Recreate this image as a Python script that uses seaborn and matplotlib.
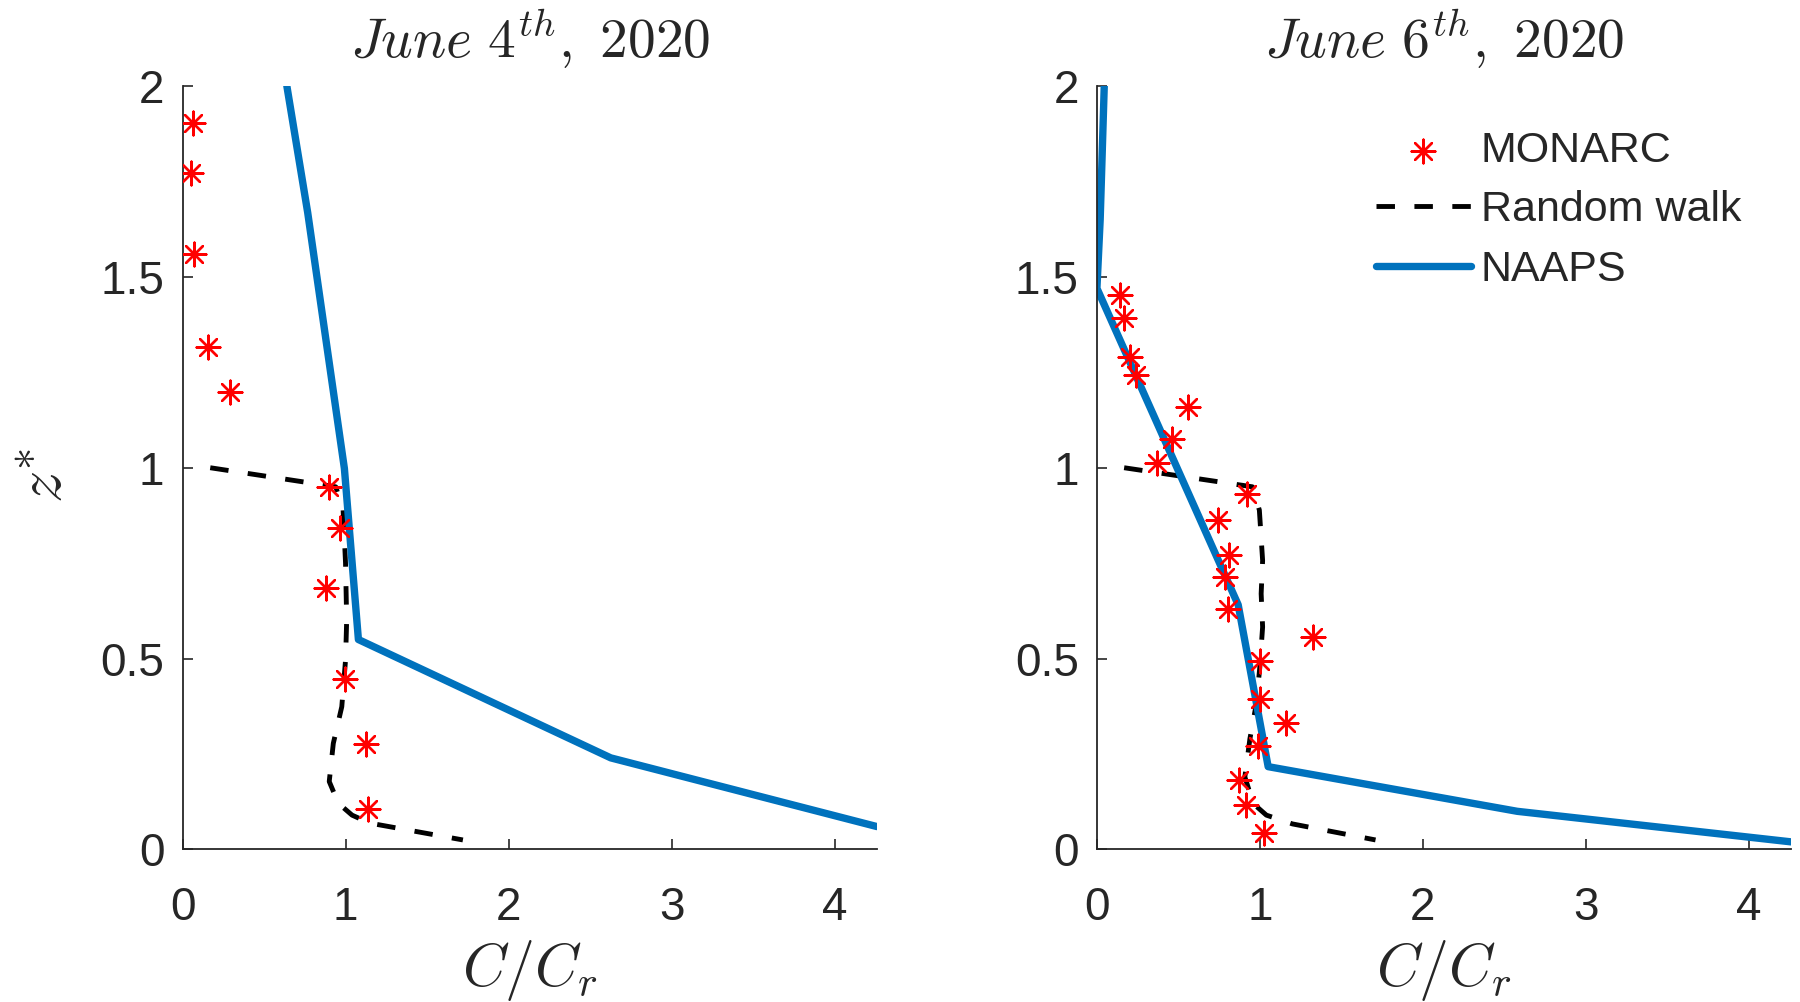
import pandas as pd
import seaborn as sns
import matplotlib.pyplot as plt

# June 4th profiles
monarc_x_jun4 = [0.064, 0.05, 0.071, 0.155, 0.289, 0.90, 0.966, 0.88, 0.997, 1.124, 1.14]
monarc_z_jun4 = [1.902, 1.773, 1.56, 1.316, 1.199, 0.95, 0.843, 0.684, 0.446, 0.276, 0.106]
walk_x_jun4 = [0.17, 0.94, 0.985, 1.0, 1.007, 1.0, 0.977, 0.925, 0.90, 0.956, 1.04, 1.15, 1.72]
walk_z_jun4 = [1.0, 0.95, 0.89, 0.75, 0.60, 0.496, 0.374, 0.278, 0.178, 0.121, 0.09, 0.069, 0.025]
naaps_x_jun4 = [0.64, 0.768, 0.993, 1.079, 2.627, 4.26]
naaps_z_jun4 = [2.0, 1.668, 0.998, 0.55, 0.24, 0.06]

# June 6th profiles
monarc_x_jun6 = [0.141, 0.166, 0.202, 0.239, 0.556, 0.458, 0.366, 0.922, 0.745, 0.813, 0.785,
                 0.806, 1.327, 1.0, 1.0, 1.163, 0.99, 0.873, 0.918, 1.024]
monarc_z_jun6 = [1.452, 1.391, 1.289, 1.244, 1.159, 1.074, 1.013, 0.932, 0.864, 0.771, 0.714,
                 0.631, 0.557, 0.494, 0.393, 0.332, 0.27, 0.182, 0.116, 0.042]
walk_x_jun6 = [0.167, 0.955, 0.997, 1.017, 1.008, 1.017, 1.0, 0.979, 0.939, 0.908, 0.96, 1.04, 1.20, 1.71]
walk_z_jun6 = [1.0, 0.95, 0.889, 0.757, 0.67, 0.583, 0.479, 0.383, 0.29, 0.19, 0.12, 0.09, 0.067, 0.025]
naaps_x_jun6 = [0.045, 0.02, 0.0, 0.867, 1.051, 2.58, 4.26]
naaps_z_jun6 = [2.0, 1.65, 1.47, 0.641, 0.217, 0.10, 0.02]

titles = [r'$June\ 4^{th},\ 2020$', r'$June\ 6^{th},\ 2020$']
xticks = [0, 1, 2, 3, 4]
yticks = [0, 0.5, 1, 1.5, 2]
ytick_labels = ['0', '0.5', '1', '1.5', '2']

sns.set_theme(style='ticks')
plt.rcParams['font.family'] = ['Liberation Sans', 'DejaVu Sans']
plt.rcParams['mathtext.fontset'] = 'cm'

blue = '#0072BD'
fig = plt.figure(figsize=(18, 10.02), dpi=100)
ax1 = fig.add_axes([0.1014, 0.1522, 0.3858, 0.762])
ax2 = fig.add_axes([0.6094, 0.1522, 0.3856, 0.762])

panels = [
    (ax1, monarc_x_jun4, monarc_z_jun4, walk_x_jun4, walk_z_jun4, naaps_x_jun4, naaps_z_jun4),
    (ax2, monarc_x_jun6, monarc_z_jun6, walk_x_jun6, walk_z_jun6, naaps_x_jun6, naaps_z_jun6),
]

for i, (ax, mx, mz, wx, wz, nx, nz) in enumerate(panels):
    sns.scatterplot(x=mx, y=mz, ax=ax, marker=(8, 2, 0), s=290, color='red',
                    edgecolor='red', linewidth=1.7, label='MONARC', zorder=3)
    sns.lineplot(x=wx, y=wz, ax=ax, sort=False, estimator=None, color='black',
                 linewidth=3.5, dashes=False, label='Random walk', zorder=2)
    ax.lines[-1].set_dashes((3.8, 4.0))
    sns.lineplot(x=nx, y=nz, ax=ax, sort=False, estimator=None, color=blue,
                 linewidth=5.3, label='NAAPS', zorder=2)

    ax.set_xlim(0, 4.26)
    ax.set_ylim(0, 2)
    ax.set_xticks(xticks)
    ax.set_xticklabels([str(t) for t in xticks])
    ax.set_yticks(yticks)
    ax.set_yticklabels(ytick_labels)
    ax.tick_params(direction='in', length=7, width=1.2, labelsize=33, colors='#262626')
    ax.tick_params(axis='x', pad=26)
    ax.tick_params(axis='y', pad=13)
    for s in ['left', 'bottom']:
        ax.spines[s].set_color('#262626')
        ax.spines[s].set_linewidth(1.3)
    sns.despine(ax=ax)
    ax.set_title(titles[i], fontsize=40, pad=20)
    ax.set_xlabel(r'$C/C_r$', fontsize=43, va='center')
    ax.xaxis.set_label_coords(0.5, -0.158)
    if i == 0:
        ax.set_ylabel(r'$z^{*}$', fontsize=46, va='center')
        ax.yaxis.set_label_coords(-0.197, 0.49)
    else:
        ax.set_ylabel('')

ax1.get_legend().remove()
leg = ax2.legend(loc='upper left', bbox_to_anchor=(0.402, 0.941), frameon=False,
                 fontsize=31, handlelength=2.2, handletextpad=0.23, labelspacing=0.45,
                 borderpad=0, borderaxespad=0)

fig.savefig('out.png', dpi=100)
